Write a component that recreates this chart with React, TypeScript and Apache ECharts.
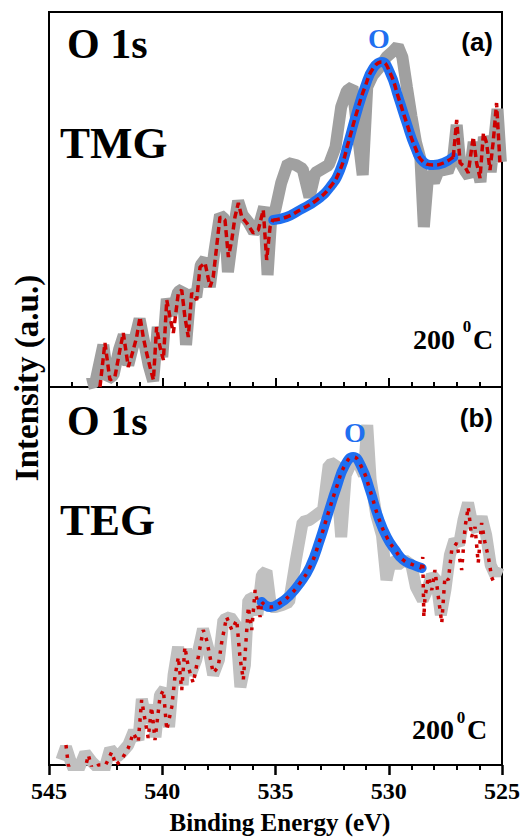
import React, { useEffect, useRef } from "react";
import * as echarts from "echarts";

// ---------- Panel (a) TMG ----------
const grayA: [number, number][] = [
  [543.3, 3], [542.95, 5], [542.6, 42], [542.4, 8], [542.15, 12], [541.9, 38], [541.7, 52], [541.5, 22],
  [541.3, 40], [541.0, 68], [540.8, 45], [540.6, 22], [540.4, 6], [540.2, 60], [540.0, 30], [539.8, 88],
  [539.6, 72], [539.3, 95], [539.1, 98], [538.95, 42], [538.75, 96], [538.5, 90], [538.3, 122], [538.1, 128],
  [537.9, 100], [537.7, 135], [537.45, 172], [537.25, 168], [537.1, 115], [536.9, 150], [536.65, 186],
  [536.45, 172], [536.2, 165], [535.95, 155], [535.75, 160], [535.5, 180], [535.35, 112], [535.2, 165],
  [535.0, 178], [534.75, 204], [534.45, 224], [534.1, 222], [533.8, 218], [533.5, 190], [533.25, 214],
  [532.95, 218], [532.65, 222], [532.35, 240], [532.1, 280], [531.85, 296], [531.6, 300], [531.35, 250],
  [531.15, 212], [530.95, 300], [530.7, 312], [530.4, 320], [530.1, 330], [529.85, 335], [529.6, 341],
  [529.4, 330], [529.2, 300], [529.0, 271], [528.8, 245], [528.6, 228], [528.45, 160], [528.25, 215],
  [528.0, 205], [527.7, 222], [527.4, 215], [527.15, 230], [527.0, 262], [526.85, 225], [526.6, 215],
  [526.45, 210], [526.25, 245], [526.1, 220], [525.95, 205], [525.8, 250], [525.65, 240], [525.5, 215],
  [525.35, 245], [525.2, 278], [525.05, 225],
];

const redLeftA: [number, number][] = [
  [542.75, 0], [542.53, 44], [542.31, 7], [542.09, 10], [541.87, 37], [541.72, 54], [541.5, 20], [541.28, 37],
  [541.13, 50], [540.98, 70], [540.84, 50], [540.69, 34], [540.54, 20], [540.39, 7], [540.25, 60], [540.1, 40],
  [539.95, 27], [539.8, 87], [539.66, 70], [539.51, 54], [539.29, 94], [539.14, 97], [539.0, 70], [538.85, 50],
  [538.7, 94], [538.48, 87], [538.33, 120], [538.11, 124], [537.89, 100], [537.75, 110], [537.6, 140],
  [537.45, 170], [537.23, 167], [537.08, 130], [536.93, 147], [536.79, 170], [536.64, 184], [536.49, 170],
  [536.27, 164], [535.98, 154], [535.76, 157], [535.54, 177], [535.39, 127], [535.24, 160], [535.1, 168],
];

const fitA: [number, number][] = [
  [535.1, 167], [534.51, 170], [533.92, 177], [533.18, 187], [532.59, 200], [532.15, 217], [531.79, 244],
  [531.42, 274], [531.05, 300], [530.68, 319], [530.31, 325], [529.94, 314], [529.58, 290], [529.21, 264],
  [528.84, 240], [528.47, 225], [528.03, 222], [527.59, 224], [527.15, 230],
];

const redRightA: [number, number][] = [
  [527.15, 230], [527.0, 267], [526.85, 224], [526.63, 220], [526.49, 214], [526.27, 250], [526.12, 224],
  [525.97, 209], [525.82, 254], [525.68, 244], [525.53, 217], [525.38, 247], [525.24, 284], [525.09, 224],
];

// ---------- Panel (b) TEG ----------
const grayB: [number, number][] = [
  [544.45, 5], [544.25, 18], [544.05, 4], [543.8, -10], [543.4, 12], [543.1, 3], [542.6, -8], [542.3, 16],
  [542.0, 8], [541.8, 12], [541.5, 20], [541.25, 34], [541.05, 25], [540.9, 66], [540.7, 42], [540.5, 60],
  [540.3, 28], [540.1, 70], [539.9, 76], [539.7, 38], [539.5, 90], [539.3, 118], [539.1, 80], [538.95, 116],
  [538.75, 90], [538.5, 105], [538.2, 136], [537.95, 115], [537.75, 90], [537.5, 105], [537.3, 145],
  [537.0, 148], [536.75, 140], [536.55, 78], [536.35, 100], [536.2, 165], [535.95, 168], [535.8, 150],
  [535.6, 190], [535.4, 194], [535.2, 158], [535.0, 158], [534.7, 160], [534.4, 163], [534.1, 205],
  [533.8, 243], [533.5, 245], [533.2, 250], [532.9, 255], [532.65, 300], [532.35, 302], [532.1, 228],
  [531.9, 290], [531.6, 305], [531.3, 300], [531.1, 290], [530.95, 340], [530.8, 285], [530.55, 250],
  [530.3, 230], [530.1, 185], [529.9, 205], [529.6, 200], [529.3, 205], [529.0, 200], [528.8, 178],
  [528.5, 165], [528.3, 175], [528.1, 190], [527.9, 185], [527.7, 150], [527.5, 175], [527.3, 210],
  [527.1, 225], [526.9, 220], [526.7, 245], [526.5, 262], [526.3, 240], [526.1, 235], [525.9, 248],
  [525.7, 230], [525.5, 200], [525.3, 190], [525.15, 198],
];

const redLeftB: [number, number][] = [
  [544.25, 20], [544.15, 0], [543.9, -12], [543.5, -12], [543.26, 10], [543.1, -4], [542.8, 0], [542.5, 0],
  [542.23, 13], [542.05, 0], [541.8, 5], [541.5, 17], [541.28, 32], [541.06, 23], [540.91, 65], [540.76, 45],
  [540.62, 27], [540.47, 58], [540.32, 25], [540.1, 68], [539.95, 75], [539.8, 35], [539.58, 58], [539.44, 88],
  [539.29, 108], [539.14, 75], [539.0, 118], [538.85, 98], [538.63, 82], [538.41, 108], [538.19, 135],
  [538.04, 125], [537.89, 108], [537.75, 92], [537.53, 98], [537.38, 122], [537.16, 148], [536.93, 135],
  [536.71, 145], [536.57, 108], [536.42, 85], [536.2, 158], [536.05, 135], [535.9, 175], [535.68, 148],
  [535.61, 163],
];

const fitB: [number, number][] = [
  [535.61, 163], [535.24, 158], [534.8, 162], [534.36, 170], [533.92, 182], [533.48, 198], [533.04, 225],
  [532.67, 252], [532.3, 278], [531.93, 300], [531.57, 308], [531.2, 298], [530.83, 275], [530.46, 248],
  [530.09, 228], [529.72, 215], [529.36, 205], [528.91, 200], [528.55, 197],
];

const redRightB: [number, number][] = [
  [528.55, 197], [528.5, 208], [528.45, 148], [528.4, 168], [528.25, 188], [528.1, 175], [527.96, 195],
  [527.81, 168], [527.66, 142], [527.52, 188], [527.37, 185], [527.22, 215], [527.0, 222], [526.78, 195],
  [526.63, 238], [526.49, 258], [526.34, 228], [526.19, 238], [526.05, 202], [525.9, 242], [525.75, 222],
  [525.6, 208], [525.46, 188], [525.31, 180],
];

const xMin = 525;
const xMax = 545;
const xInterval = 5;

const SERIF = '"Liberation Serif", "Times New Roman", serif';
const SANS = '"Liberation Sans", Arial, sans-serif';
const BLUE = "#1f6ff0";
const RED = "#cc0000";

function txt(text: string, x: number, y: number, size: number, opts: any = {}) {
  return {
    type: "text",
    x,
    y,
    rotation: opts.rotation || 0,
    z: 100,
    style: {
      text,
      fill: opts.fill || "#000",
      fontSize: size,
      fontWeight: "bold",
      fontFamily: opts.family || SERIF,
      align: opts.align || "left",
      verticalAlign: "middle",
    },
  };
}

function line(data: [number, number][], idx: number, color: string, width: number, type: any, extra: any = {}) {
  return {
    type: "line",
    xAxisIndex: idx,
    yAxisIndex: idx,
    data,
    symbol: "none",
    showSymbol: false,
    clip: true,
    lineStyle: { color, width, type, cap: extra.cap || "butt", join: "bevel" },
    smooth: extra.smooth || false,
    z: extra.z || 2,
    silent: true,
  };
}

export default function App() {
  const ref = useRef<HTMLDivElement>(null);
  useEffect(() => {
    const chart = echarts.init(ref.current!, null, { renderer: "svg" });
    const axisCommon = {
      type: "value",
      min: xMin,
      max: xMax,
      interval: xInterval,
      inverse: true,
      splitLine: { show: false },
      minorSplitLine: { show: false },
      axisLine: { show: true, lineStyle: { color: "#000", width: 2 } },
    };
    chart.setOption({
      animation: false,
      backgroundColor: "#fff",
      grid: [
        { left: 49, top: 12, width: 453, height: 375, show: true, borderColor: "#000", borderWidth: 2, backgroundColor: "transparent" },
        { left: 49, top: 387, width: 453, height: 378, show: true, borderColor: "#000", borderWidth: 2, backgroundColor: "transparent" },
      ],
      xAxis: [
        {
          ...axisCommon,
          gridIndex: 0,
          axisTick: { show: true, inside: true, length: 9, lineStyle: { color: "#000", width: 2 } },
          minorTick: { show: true, splitNumber: 5, length: 5, lineStyle: { color: "#000", width: 2 } },
          axisLabel: { show: false },
        },
        {
          ...axisCommon,
          gridIndex: 1,
          axisTick: { show: true, inside: false, length: 10, lineStyle: { color: "#000", width: 2.5 } },
          minorTick: { show: true, splitNumber: 5, length: 5, lineStyle: { color: "#000", width: 2 } },
          axisLabel: {
            show: true,
            color: "#000",
            fontFamily: SERIF,
            fontWeight: "bold",
            fontSize: 24,
            margin: 14,
            showMinLabel: true,
            showMaxLabel: true,
          },
        },
      ],
      yAxis: [
        { gridIndex: 0, type: "value", min: 0, max: 375, show: false, splitLine: { show: false } },
        { gridIndex: 1, type: "value", min: 0, max: 378, show: false, splitLine: { show: false } },
      ],
      series: [
        line(grayA, 0, "#a0a0a0", 12, "solid", { z: 1 }),
        line(fitA, 0, BLUE, 10, "solid", { smooth: 0.5, cap: "round", z: 2 }),
        line(redLeftA, 0, RED, 3.5, [7, 4], { z: 3 }),
        line(fitA, 0, RED, 3.5, [7, 4], { smooth: 0.5, z: 3 }),
        line(redRightA, 0, RED, 3.5, [7, 4], { z: 3 }),
        line(grayB, 1, "#c0c0c0", 12, "solid", { z: 1 }),
        line(fitB, 1, BLUE, 10, "solid", { smooth: 0.5, cap: "round", z: 2 }),
        line(redLeftB, 1, RED, 3.5, [3.5, 6], { z: 3 }),
        line(fitB, 1, RED, 3.5, [3.5, 6], { smooth: 0.5, z: 3 }),
        line(redRightB, 1, RED, 3.5, [3.5, 6], { z: 3 }),
      ],
      graphic: [
        txt("O 1s", 67, 44, 42),
        txt("TMG", 60, 143, 45),
        txt("(a)", 493, 42, 26, { family: SANS, align: "right" }),
        txt("O", 379, 38, 28, { fill: BLUE, align: "center" }),
        txt("200", 413, 339, 28),
        txt("0", 467, 326, 17, { align: "center" }),
        txt("C", 473, 339, 28),
        txt("O 1s", 67, 421, 42),
        txt("TEG", 60, 520, 45),
        txt("(b)", 493, 418, 26, { family: SANS, align: "right" }),
        txt("O", 355, 432, 28, { fill: BLUE, align: "center" }),
        txt("200", 412, 729, 28),
        txt("0", 461, 717, 17, { align: "center" }),
        txt("C", 467, 729, 28),
        txt("Binding Energy (eV)", 280, 822, 25, { align: "center" }),
        txt("Intensity (a.u.)", 27, 378, 33, { align: "center", rotation: Math.PI / 2 }),
      ],
    });
    return () => chart.dispose();
  }, []);
  return (
    <div
      ref={ref}
      style={{ position: "fixed", left: 0, top: 0, width: 527, height: 837, background: "#fff" }}
    />
  );
}
